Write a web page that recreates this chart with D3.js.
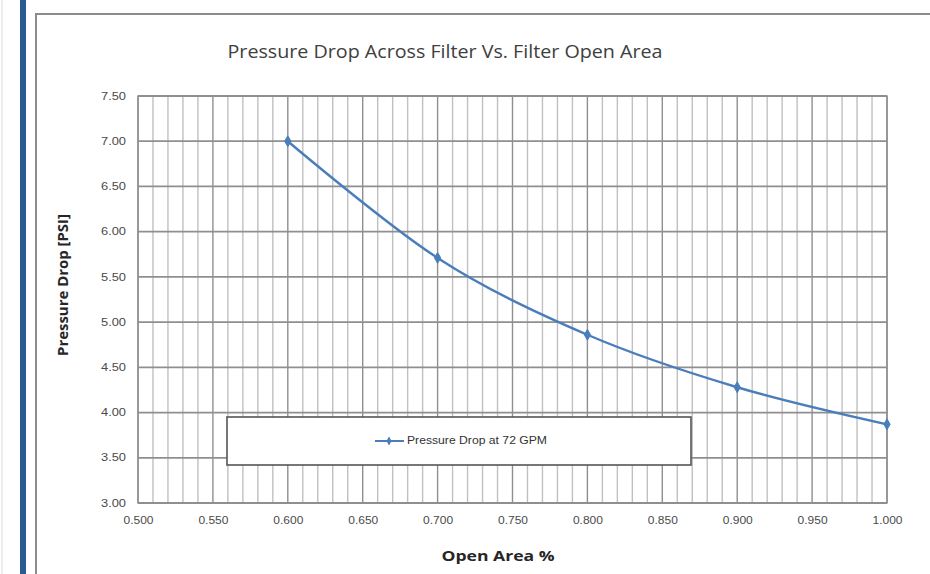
<!DOCTYPE html>
<html>
<head>
<meta charset="utf-8">
<script src="https://cdn.jsdelivr.net/npm/d3@7"></script>
<style>
  body { margin: 0; background: #fff; }
  svg { display: block; font-family: "Open Sans", "Liberation Sans", sans-serif; }
</style>
</head>
<body>
<div id="chart"></div>
<script>
// Data
//--------------------------
var openArea = [0.600, 0.700, 0.800, 0.900, 1.000];
var pressureDrop = [7.00, 5.71, 4.86, 4.28, 3.87];
var xTicks = [0.500, 0.550, 0.600, 0.650, 0.700, 0.750, 0.800, 0.850, 0.900, 0.950, 1.000];
var yTicks = [3.00, 3.50, 4.00, 4.50, 5.00, 5.50, 6.00, 6.50, 7.00, 7.50];
var seriesName = "Pressure Drop at 72 GPM";

// Sizing
//-------
var svgWidth = 930;
var svgHeight = 574;
var plot = { left: 138, right: 887, top: 96, bottom: 503 };

var svg = d3.select("#chart")
  .append("svg")
  .attr("width", svgWidth)
  .attr("height", svgHeight);

// page frame around the chart (document screenshot look)
svg.append("rect")
  .attr("x", 20).attr("y", 0)
  .attr("width", 6).attr("height", svgHeight)
  .attr("fill", "#2b5a8e");
svg.append("line")
  .attr("x1", 2).attr("x2", 2).attr("y1", 0).attr("y2", svgHeight)
  .attr("stroke", "#d8dde4").attr("stroke-width", 1);
svg.append("path")
  .attr("d", `M36,${svgHeight} V14 H${svgWidth}`)
  .attr("fill", "none")
  .attr("stroke", "#8c8c8c")
  .attr("stroke-width", 2);

// Scales
//-------
var x = d3.scaleLinear().domain([0.5, 1.0]).range([plot.left, plot.right]);
var y = d3.scaleLinear().domain([3.0, 7.5]).range([plot.bottom, plot.top]);

var grid = svg.append("g");

// minor vertical grid every 0.01
var minor = d3.range(51).map(i => 0.5 + i * 0.01);
grid.selectAll(".vminor")
  .data(minor)
  .enter()
  .append("line")
  .attr("x1", d => x(d)).attr("x2", d => x(d))
  .attr("y1", plot.top).attr("y2", plot.bottom)
  .attr("stroke", d => Math.abs(Math.round(d * 20) - d * 20) < 1e-6 ? "#8f8f8f" : "#c0c0c0")
  .attr("stroke-width", 1.4);

// horizontal grid
grid.selectAll(".hgrid")
  .data(yTicks)
  .enter()
  .append("line")
  .attr("x1", plot.left).attr("x2", plot.right)
  .attr("y1", d => y(d)).attr("y2", d => y(d))
  .attr("stroke", "#8f8f8f")
  .attr("stroke-width", 1.8);

// plot border
grid.append("rect")
  .attr("x", plot.left).attr("y", plot.top)
  .attr("width", plot.right - plot.left).attr("height", plot.bottom - plot.top)
  .attr("fill", "none").attr("stroke", "#8f8f8f").attr("stroke-width", 1.4);

// Axes
//-----
var xAxis = svg.append("g")
  .attr("transform", `translate(0, ${plot.bottom})`)
  .call(d3.axisBottom(x).tickValues(xTicks).tickFormat(d3.format(".3f")).tickSize(0).tickPadding(14));
var yAxis = svg.append("g")
  .attr("transform", `translate(${plot.left}, 0)`)
  .call(d3.axisLeft(y).tickValues(yTicks).tickFormat(d3.format(".2f")).tickSize(0).tickPadding(12));

[xAxis, yAxis].forEach(function(a) {
  a.select(".domain").remove();
  a.selectAll("text")
    .attr("fill", "#4a4a4a")
    .attr("font-size", 10)
    .attr("font-family", "'Liberation Sans', sans-serif")
    .attr("lengthAdjust", "spacingAndGlyphs");
});
xAxis.selectAll("text").attr("textLength", 30);
yAxis.selectAll("text").attr("textLength", 25);

// Series line (smoothed like Excel)
//----------------------------------
var points = openArea.map((d, i) => [d, pressureDrop[i]]);
var line = d3.line()
  .x(d => x(d[0]))
  .y(d => y(d[1]))
  .curve(d3.curveCardinal.tension(0));

svg.append("path")
  .datum(points)
  .attr("d", line)
  .attr("fill", "none")
  .attr("stroke", "#4a7ebb")
  .attr("stroke-width", 2.4);

var diamond = d3.symbol().type(d3.symbolDiamond).size(34);
svg.selectAll(".marker")
  .data(points)
  .enter()
  .append("path")
  .attr("d", diamond)
  .attr("transform", d => `translate(${x(d[0])}, ${y(d[1])})`)
  .attr("fill", "#4a7ebb")
  .attr("stroke", "#4a7ebb");

// Legend
//-------
var legend = svg.append("g");
legend.append("rect")
  .attr("x", 227).attr("y", 417)
  .attr("width", 464).attr("height", 48)
  .attr("fill", "#fff")
  .attr("stroke", "#555")
  .attr("stroke-width", 1.6);
legend.append("line")
  .attr("x1", 375).attr("x2", 404).attr("y1", 441).attr("y2", 441)
  .attr("stroke", "#4a7ebb").attr("stroke-width", 2);
legend.append("path")
  .attr("d", d3.symbol().type(d3.symbolDiamond).size(24))
  .attr("transform", "translate(389, 441)")
  .attr("fill", "#4a7ebb");
legend.append("text")
  .attr("x", 407).attr("y", 444)
  .attr("font-size", 10)
  .attr("fill", "#333")
  .attr("font-family", "'Liberation Sans', sans-serif")
  .attr("textLength", 140)
  .attr("lengthAdjust", "spacingAndGlyphs")
  .text(seriesName);

// Titles
//-------
svg.append("text")
  .attr("x", 445).attr("y", 58)
  .attr("text-anchor", "middle")
  .attr("font-size", 18)
  .attr("fill", "#404040")
  .attr("textLength", 435)
  .attr("lengthAdjust", "spacingAndGlyphs")
  .text("Pressure Drop Across Filter Vs. Filter Open Area");

svg.append("text")
  .attr("x", 498).attr("y", 561)
  .attr("text-anchor", "middle")
  .attr("font-size", 15)
  .attr("font-weight", "bold")
  .attr("fill", "#262626")
  .attr("textLength", 113)
  .attr("lengthAdjust", "spacingAndGlyphs")
  .text("Open Area %");

svg.append("text")
  .attr("transform", "translate(68, 285) rotate(-90)")
  .attr("text-anchor", "middle")
  .attr("font-size", 14)
  .attr("font-weight", "bold")
  .attr("fill", "#262626")
  .attr("textLength", 142)
  .attr("lengthAdjust", "spacingAndGlyphs")
  .text("Pressure Drop [PSI]");
</script>
</body>
</html>
